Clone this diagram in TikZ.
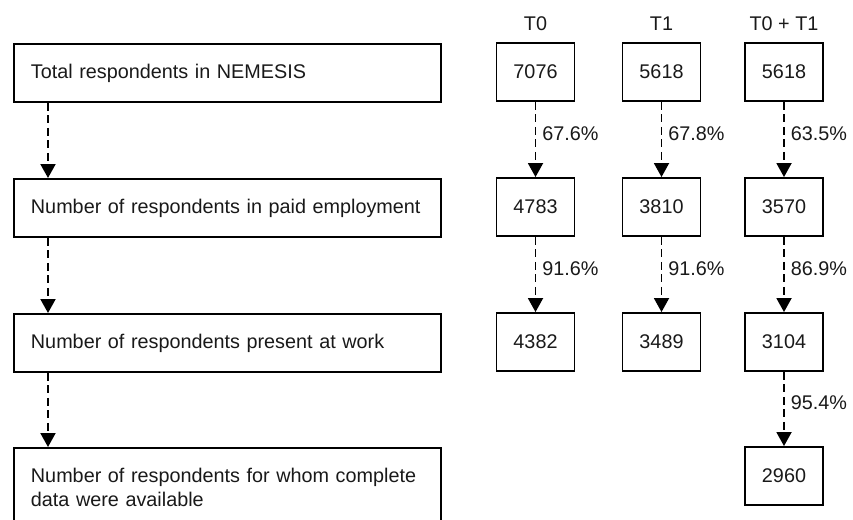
\documentclass[tikz,border=0pt]{standalone}
\usepackage{fontspec}
\setmainfont{Liberation Sans}
\usetikzlibrary{arrows.meta, positioning}

\begin{document}
\begin{tikzpicture}[x=1pt, y=-1pt,
  every node/.style={font=\fontsize{19.8}{24}\selectfont, text=black!90},
  stage/.style={draw, line width=1.9pt, anchor=north west, text width=393pt,
    inner xsep=17pt, minimum height=58pt, align=left},
  numbox/.style={draw, line width=1.9pt, minimum width=78pt, minimum height=58pt},
  flow/.style={line width=1.9pt, dash pattern=on 8pt off 4.5pt,
    -{Triangle[width=15pt, length=14pt]}},
  pct/.style={right, pos=0.42, inner xsep=6pt}]
  \useasboundingbox (0,0) rectangle (853,519);
  \clip (0,0) rectangle (853,519);

  % Stage boxes on the left
  \node[stage] (total) at (13,43) {Total respondents in NEMESIS};
  \node[stage] (paid) at (13,178) {Number of respondents in paid employment};
  \node[stage] (present) at (13,313) {Number of respondents present at work};
  \node[stage, inner ysep=20pt] (complete) at (13,447)
    {Number of respondents for whom complete\\data were available};

  % Left flow
  \draw[flow] ([xshift=35pt]total.south west) -- ([xshift=35pt]paid.north west);
  \draw[flow] ([xshift=35pt]paid.south west) -- ([xshift=35pt]present.north west);
  \draw[flow] ([xshift=35pt]present.south west) -- ([xshift=35pt]complete.north west);

  % Column headers
  \node (hT0) at (535.5,24) {T0};
  \node (hT1) at (661.5,24) {T1};
  \node (hT01) at (784,24) {T0 + T1};

  % T0
  \node[numbox] (t0a) at (535.5,72) {7076};
  \node[numbox] (t0b) at (535.5,207) {4783};
  \node[numbox] (t0c) at (535.5,342) {4382};
  \draw[flow] (t0a) -- node[pct] {67.6\%} (t0b);
  \draw[flow] (t0b) -- node[pct] {91.6\%} (t0c);

  % T1
  \node[numbox] (t1a) at (661.5,72) {5618};
  \node[numbox] (t1b) at (661.5,207) {3810};
  \node[numbox] (t1c) at (661.5,342) {3489};
  \draw[flow] (t1a) -- node[pct] {67.8\%} (t1b);
  \draw[flow] (t1b) -- node[pct] {91.6\%} (t1c);

  % T0 + T1
  \node[numbox] (t01a) at (784,72) {5618};
  \node[numbox] (t01b) at (784,207) {3570};
  \node[numbox] (t01c) at (784,342) {3104};
  \node[numbox] (t01d) at (784,476) {2960};
  \draw[flow] (t01a) -- node[pct] {63.5\%} (t01b);
  \draw[flow] (t01b) -- node[pct] {86.9\%} (t01c);
  \draw[flow] (t01c) -- node[pct] {95.4\%} (t01d);
\end{tikzpicture}
\end{document}
